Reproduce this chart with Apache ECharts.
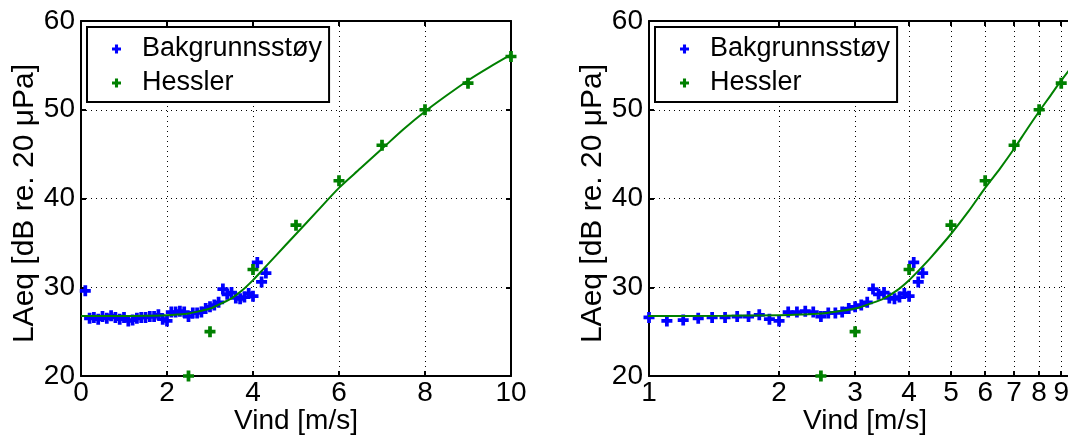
<!DOCTYPE html>
<html>
<head>
<meta charset="utf-8">
<script src="https://cdn.jsdelivr.net/npm/echarts@6/dist/echarts.min.js"></script>
<style>
html,body{margin:0;padding:0;background:#fff;}
#chart{width:1068px;height:436px;}
</style>
</head>
<body>
<div id="chart"></div>
<script>
// ---- Data ----
const bgWind = [0.1,0.2,0.3,0.4,0.5,0.6,0.7,0.8,0.9,1.0,1.1,1.2,1.3,1.4,1.5,1.6,1.7,1.8,1.9,2.0,2.1,2.2,2.3,2.4,2.5,2.6,2.7,2.8,2.9,3.0,3.1,3.2,3.3,3.4,3.5,3.6,3.7,3.8,3.9,4.0,4.1,4.2,4.3];
const bgLevel = [29.6,26.5,26.6,26.4,26.7,26.5,26.8,26.6,26.4,26.6,26.2,26.3,26.5,26.6,26.6,26.7,26.7,26.9,26.4,26.2,27.2,27.2,27.3,27.2,26.7,27.1,27.1,27.2,27.6,27.8,28.0,28.3,29.8,29.2,29.4,28.8,28.7,28.9,29.3,29.0,32.8,30.6,31.6];
const hesslerWind = [2.5,3,4,5,6,7,8,9,10];
const hesslerLevel = [20,25,32,37,42,46,50,53,56];
const fitWind = [0,0.5,1,1.5,2,2.25,2.5,2.75,3,3.25,3.5,3.75,4,4.25,4.5,5,5.5,6,6.5,7,7.5,8,8.5,9,9.5,10];
const fitLevel = [26.75,26.75,26.75,26.78,26.85,26.93,27.05,27.3,27.6,28.15,28.75,29.65,30.8,32.1,33.4,36.0,38.6,41.2,43.4,45.6,47.8,49.8,51.6,53.3,54.8,56.2];
const linTicks = [0,2,4,6,8,10];
const logTicks = [1,2,3,4,5,6,7,8,9,10];
const yTicks = [20,30,40,50,60];
const names = {bg:'Bakgrunnsstøy', hs:'Hessler', x:'Vind [m/s]', y:'LAeq [dB re. 20 μPa]'};

// ---- Build ----
const FONT = 'Liberation Sans, Arial, sans-serif';
const BLUE = '#0000ff', GREEN = '#008000';
const SYM = 'path://M3.3,0H6.7V3.3H10V6.7H6.7V10H3.3V6.7H0V3.3H3.3Z';
const pairs = (xs, ys, f) => xs.map((x,i)=>[x, ys[i]]).filter(p => !f || f(p[0]));

const grids = [
  {left:81, top:21, width:430, height:355, outerBoundsMode:'none', containLabel:false},
  {left:649, top:21, width:432, height:355, outerBoundsMode:'none', containLabel:false}
];

function xAxes(gi, isLog) {
  const base = {
    gridIndex: gi,
    min: isLog ? 1 : 0, max: 10,
    axisLine: {show:true, onZero:false, lineStyle:{color:'#000', width:2}},
    axisTick: {show:true, inside:true, length:5, lineStyle:{color:'#000', width:2}},
  };
  if (isLog) {
    base.type = 'log'; base.logBase = 10;
    base.axisTick.customValues = logTicks;
  } else {
    base.type = 'value'; base.interval = 2;
  }
  const bottom = Object.assign({}, base, {
    position:'bottom',
    name: names.x, nameLocation:'middle', nameGap: 31, nameMoveOverlap:false,
    nameTextStyle:{fontFamily:FONT, fontSize:28, color:'#000'},
    axisLabel: Object.assign({show:true, margin:3, fontFamily:FONT, fontSize:28, color:'#000', showMinLabel:true, showMaxLabel:true},
      isLog ? {customValues: logTicks.slice(0,9), formatter: v => String(Math.round(v))} : {}),
    splitLine: {show:true, lineStyle:{color:'#000', width:1, type:[1,4]}}
  });
  const top = Object.assign({}, base, {
    position:'top',
    axisLabel:{show:false},
    splitLine:{show:false}
  });
  return [bottom, top];
}
function yAxes(gi) {
  const base = {
    gridIndex: gi, type:'value', min:20, max:60, interval:10,
    axisLine:{show:true, onZero:false, lineStyle:{color:'#000', width:2}},
    axisTick:{show:true, inside:true, length:5, lineStyle:{color:'#000', width:2}},
  };
  const left = Object.assign({}, base, {
    position:'left',
    name: names.y, nameLocation:'middle', nameGap: 38,
    nameTextStyle:{fontFamily:FONT, fontSize:30, color:'#000', padding:[0,10,0,0]},
    axisLabel:{show:true, margin:6, fontFamily:FONT, fontSize:28, color:'#000'},
    splitLine:{show:true, lineStyle:{color:'#000', width:1, type:[1,4]}}
  });
  const right = Object.assign({}, base, {position:'right', axisLabel:{show:false}, splitLine:{show:false}});
  return [left, right];
}

const xAxis = [...xAxes(0,false), ...xAxes(1,true)];
const yAxis = [...yAxes(0), ...yAxes(1)];

function seriesFor(gi, isLog) {
  const f = isLog ? (x => x > 0) : null;
  const xi = gi*2, yi = gi*2;
  return [
    {type:'line', name:'fit'+gi, xAxisIndex:xi, yAxisIndex:yi, data: pairs(fitWind, fitLevel, f),
     smooth:0.3, symbol:'none', lineStyle:{color:GREEN, width:2}, z:3, clip:true},
    {type:'scatter', name:names.bg, xAxisIndex:xi, yAxisIndex:yi, data: pairs(bgWind, bgLevel, f),
     symbol:SYM, symbolSize:11, itemStyle:{color:BLUE, opacity:1}, z:2, clip:true},
    {type:'scatter', name:names.hs, xAxisIndex:xi, yAxisIndex:yi, data: pairs(hesslerWind, hesslerLevel, f),
     symbol:SYM, symbolSize:11, itemStyle:{color:GREEN, opacity:1}, z:4, clip:false}
  ];
}

function legendAt(left) {
  return {
    data:[names.bg, names.hs], orient:'vertical', left:left, top:27,
    backgroundColor:'#fff', borderColor:'#000', borderWidth:2,
    padding:[7,7,4,25], itemGap:4, itemWidth:9, itemHeight:9,
    selectedMode:false,
    textStyle:{fontFamily:FONT, fontSize:27, color:'#000', lineHeight:30, padding:[0,0,0,16]}
  };
}

const chart = echarts.init(document.getElementById('chart'), null, {renderer:'canvas'});
chart.setOption({
  animation:false,
  backgroundColor:'#fff',
  grid: grids,
  xAxis, yAxis,
  legend:[legendAt(87), legendAt(655)],
  series:[...seriesFor(0,false), ...seriesFor(1,true)]
});
</script>
</body>
</html>
